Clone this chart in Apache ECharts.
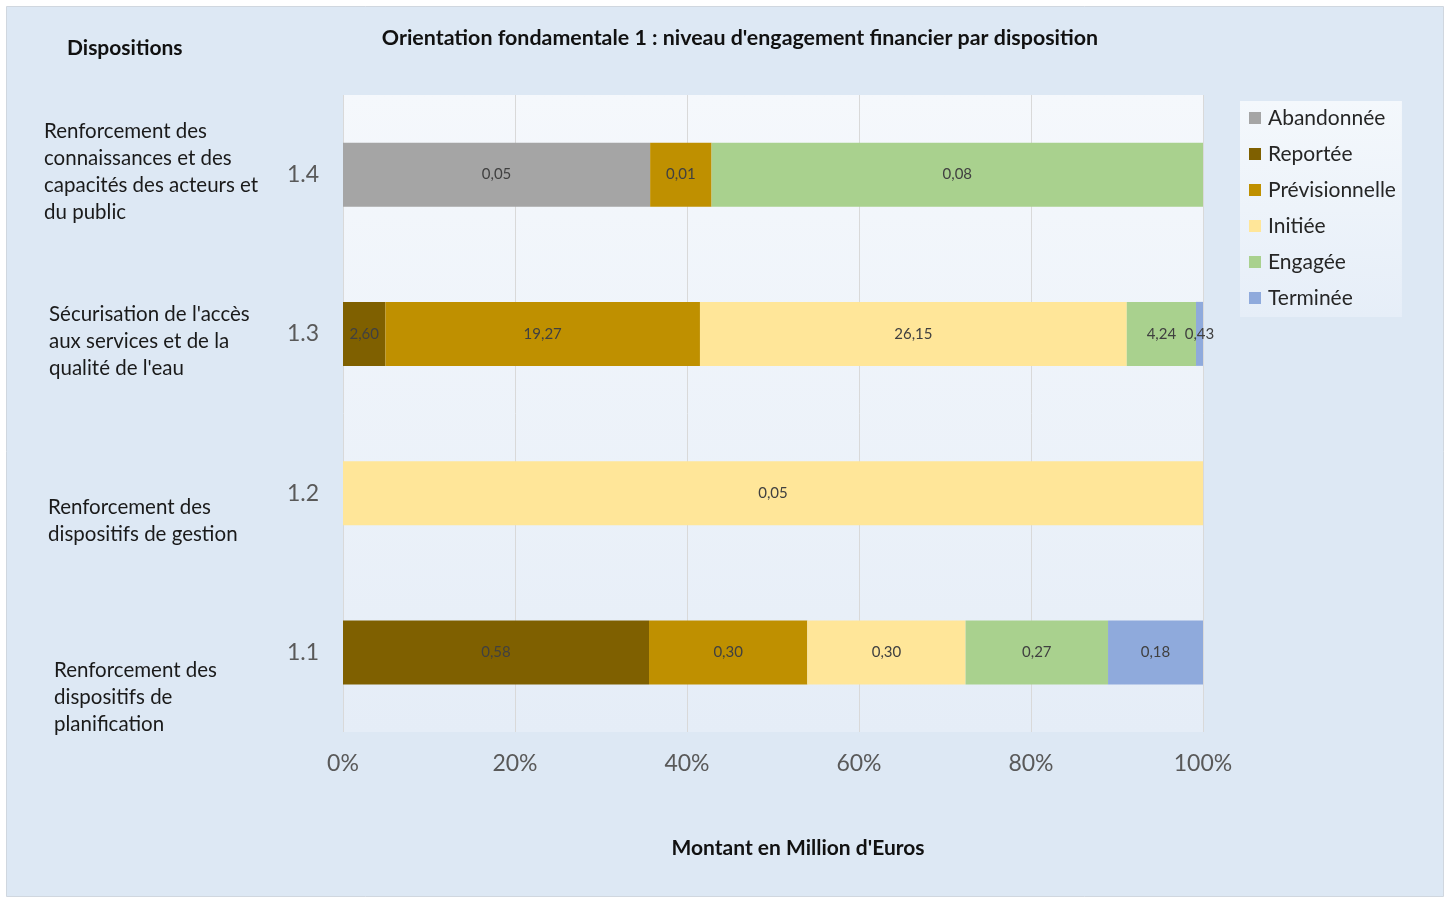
<!DOCTYPE html>
<html>
<head>
<meta charset="utf-8">
<title>Orientation fondamentale 1</title>
<script src="https://cdn.jsdelivr.net/npm/echarts@6/dist/echarts.min.js"></script>
<style>
  html, body { margin: 0; padding: 0; background: #ffffff; }
  #chart { width: 1449px; height: 898px; }
</style>
</head>
<body>
<div id="chart"></div>
<script>
// categories from bottom to top
var categories = ["1.1", "1.2", "1.3", "1.4"];
var descriptions = [
  "Renforcement des\ndispositifs de\nplanification",
  "Renforcement des\ndispositifs de gestion",
  "Sécurisation de l'accès\naux services et de la\nqualité de l'eau",
  "Renforcement des\nconnaissances et des\ncapacités des acteurs et\ndu public"
];
var seriesNames = ["Abandonnée", "Reportée", "Prévisionnelle", "Initiée", "Engagée", "Terminée"];
var colors = ["#a5a5a5", "#7f6000", "#bf9000", "#ffe699", "#a9d18e", "#8faadc"];

// montants en millions d'euros (1.1, 1.2, 1.3, 1.4)
var abandonnee = [null, null, null, 0.05];
var reportee = [0.58, null, 2.60, null];
var previsionnelle = [0.30, null, 19.27, 0.01];
var initiee = [0.30, 0.05, 26.15, null];
var engagee = [0.27, null, 4.24, 0.08];
var terminee = [0.18, null, 0.43, null];

var xTicks = [0, 20, 40, 60, 80, 100];

var allValues = [abandonnee, reportee, previsionnelle, initiee, engagee, terminee];

// totaux par disposition pour le 100%
var totals = categories.map(function (c, i) {
  var s = 0;
  allValues.forEach(function (arr) { s += arr[i] || 0; });
  return s;
});

var chart = echarts.init(document.getElementById("chart"));

var series = seriesNames.map(function (name, k) {
  return {
    name: name,
    type: "bar",
    stack: "total",
    barWidth: 64,
    itemStyle: { color: colors[k] },
    label: {
      show: true,
      position: "inside",
      color: "#404040",
      fontSize: 15,
      fontFamily: "Lato",
      formatter: function (p) {
        return p.data.raw.toFixed(2).replace(".", ",");
      }
    },
    data: allValues[k].map(function (v, i) {
      if (v == null) return { value: "-", raw: 0 };
      return { value: v / totals[i] * 100, raw: v };
    })
  };
});

// textes des dispositions (colonne de gauche)
var descPos = [[54, 657], [48, 494], [49, 301], [44, 118]];
var graphics = [
  {
    type: "rect",
    shape: { x: 6.5, y: 6.5, width: 1437, height: 890 },
    style: { fill: "#dde8f4", stroke: "#d0d7df", lineWidth: 1 },
    z: -10,
    silent: true
  },
  {
    type: "text",
    left: 67,
    top: 38,
    style: { text: "Dispositions", font: "bold 21px Lato", fill: "#111111" }
  }
];
descriptions.forEach(function (d, i) {
  graphics.push({
    type: "text",
    x: descPos[i][0],
    y: descPos[i][1],
    style: { text: d, font: "20.5px Lato", fill: "#1a1a1a", lineHeight: 27 }
  });
});

chart.setOption({
  animation: false,
  backgroundColor: "#ffffff",
  graphic: graphics,
  title: {
    text: "Orientation fondamentale 1 : niveau d'engagement financier par disposition",
    left: 735,
    textAlign: "center",
    top: 23,
    textStyle: { fontFamily: "Lato", fontWeight: "bold", fontSize: 21.4, color: "#111111" }
  },
  legend: {
    orient: "vertical",
    left: 1240,
    top: 101,
    padding: [5, 6, 7, 9],
    itemGap: 12,
    itemWidth: 12,
    itemHeight: 12,
    icon: "rect",
    backgroundColor: {
      type: "linear", x: 0, y: 0, x2: 0, y2: 1,
      colorStops: [{ offset: 0, color: "#f4f8fc" }, { offset: 1, color: "#e6eef8" }]
    },
    textStyle: { fontFamily: "Lato", fontSize: 21, color: "#262626", lineHeight: 24, padding: [0, 0, 0, 2] },
    data: seriesNames
  },
  grid: {
    left: 343,
    right: 246,
    top: 95,
    bottom: 166,
    show: true,
    borderWidth: 0,
    backgroundColor: {
      type: "linear", x: 0, y: 0, x2: 0, y2: 1,
      colorStops: [{ offset: 0, color: "#f5f8fc" }, { offset: 1, color: "#e5edf7" }]
    }
  },
  xAxis: {
    type: "value",
    min: xTicks[0],
    max: xTicks[xTicks.length - 1],
    interval: 20,
    name: "Montant en Million d'Euros",
    nameLocation: "middle",
    nameGap: 106,
    nameTextStyle: { fontFamily: "Lato", fontWeight: "bold", fontSize: 21, color: "#111111", padding: [0, 0, 0, 50] },
    axisLine: { show: false },
    axisTick: { show: false },
    splitLine: { show: true, lineStyle: { color: "#d9d9d9", width: 1 } },
    axisLabel: {
      formatter: "{value}%",
      margin: 20,
      fontFamily: "Lato",
      fontSize: 23,
      color: "#595959"
    }
  },
  yAxis: {
    type: "category",
    data: categories,
    axisLine: { show: false },
    axisTick: { show: false },
    axisLabel: { fontFamily: "Lato", fontSize: 23, color: "#595959", margin: 24 }
  },
  series: series
});

window.addEventListener("resize", function () { chart.resize(); });
</script>
</body>
</html>
